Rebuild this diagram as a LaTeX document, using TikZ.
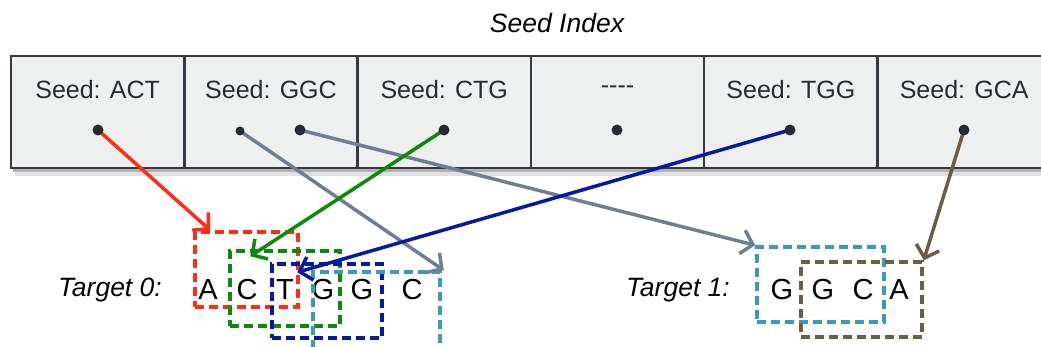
\documentclass[tikz,border=0pt]{standalone}
\usepackage{fontspec}
\setmainfont{Liberation Sans}
\usetikzlibrary{arrows.meta,positioning}
\definecolor{cellfill}{RGB}{238,240,239}
\definecolor{celldraw}{RGB}{55,56,68}
\definecolor{seedtext}{RGB}{40,42,52}
\definecolor{winred}{RGB}{255,45,20}
\definecolor{wingreen}{RGB}{10,140,10}
\definecolor{winblue}{RGB}{5,25,165}
\definecolor{winteal}{RGB}{60,155,180}
\definecolor{winbrown}{RGB}{110,92,68}
\definecolor{linkgray}{RGB}{112,126,144}
\tikzset{
  cell/.style={draw=celldraw,line width=2.5pt,fill=cellfill,minimum width=173.3pt,minimum height=112pt,inner sep=0pt},
  seedtxt/.style={font=\fontsize{25}{30}\selectfont,text=seedtext},
  dot/.style={circle,fill=seedtext,inner sep=0pt,minimum size=11pt},
  base/.style={font=\fontsize{29}{33}\selectfont},
  lab/.style={font=\fontsize{26.5}{30}\selectfont\itshape},
  win/.style={draw=#1,line width=3.5pt,dash pattern=on 9pt off 5pt,inner sep=0pt},
  link/.style={draw=#1,line width=3.5pt,-{Straight Barb[length=11pt,width=24pt,line width=3.5pt]}}
}
\begin{document}
\begin{tikzpicture}[x=1pt,y=-1pt]
\clip(0,0)rectangle(1041,347);
% seed index
\node[lab](title)at(557,23){Seed Index};
\fill[black!12](15,62)rectangle(1050,176);\fill[black!30](13,60)rectangle(1050,172);
\foreach\s[count=\i]in{Seed: ACT,Seed: GGC,Seed: CTG,{-}{-}{-}{-},Seed: TGG,Seed: GCA}{
  \node[cell](c\i)at({11+173.3*(\i-.5)},112){};
  \node[seedtxt](s\i)at({11+173.3*(\i-.5)},90){\s};}
\coordinate(d1)at(98,130);\coordinate(d2a)at(240,131);\coordinate(d2b)at(300,130);
\coordinate(d3)at(444,130);\coordinate(d4)at(617,130);\coordinate(d5)at(790,130);\coordinate(d6)at(964,130);
% targets
\node[lab](tg0)at(110,290){Target 0:};
\foreach\c/\x[count=\i]in{A/208,C/247,T/285,G/323,G/362,C/412}\node[base](a\i)at(\x,290){\c};
\node[win=winred,minimum width=103pt,minimum height=75pt](w0a)at(246.5,269.5){};
\node[win=wingreen,minimum width=110pt,minimum height=75pt](w0b)at(285,288.5){};
\node[win=winblue,minimum width=110pt,minimum height=74pt](w0c)at(327,301){};
\node[win=winteal,minimum width=127pt,minimum height=84pt](w0d)at(376.5,314){};
\node[lab](tg1)at(678,290){Target 1:};
\foreach\c/\x[count=\i]in{G/782,G/823,C/863,A/899}\node[base](b\i)at(\x,290){\c};
\node[win=winteal,minimum width=127pt,minimum height=75pt](w1a)at(820.5,284.5){};
\node[win=winbrown,minimum width=121pt,minimum height=75pt](w1b)at(861.5,299.5){};
% links
\draw[link=winred](d1)--([xshift=17pt]w0a.north west);
\draw[link=linkgray](d2a)--([xshift=2pt]w0d.north east);
\draw[link=linkgray](d2b)--(w1a.north west);
\draw[link=wingreen](d3)--([xshift=22pt,yshift=-7pt]w0b.north west);
\draw[link=winblue](d5)--([xshift=27pt,yshift=-10pt]w0c.north west);
\draw[link=winbrown](d6)--(w1b.north east);
\node[dot](p1)at(d1){};\node[dot,minimum size=9pt](p2a)at(d2a){};\node[dot](p2b)at(d2b){};
\node[dot](p3)at(d3){};\node[dot](p4)at(d4){};\node[dot](p5)at(d5){};\node[dot](p6)at(d6){};
\end{tikzpicture}
\end{document}
